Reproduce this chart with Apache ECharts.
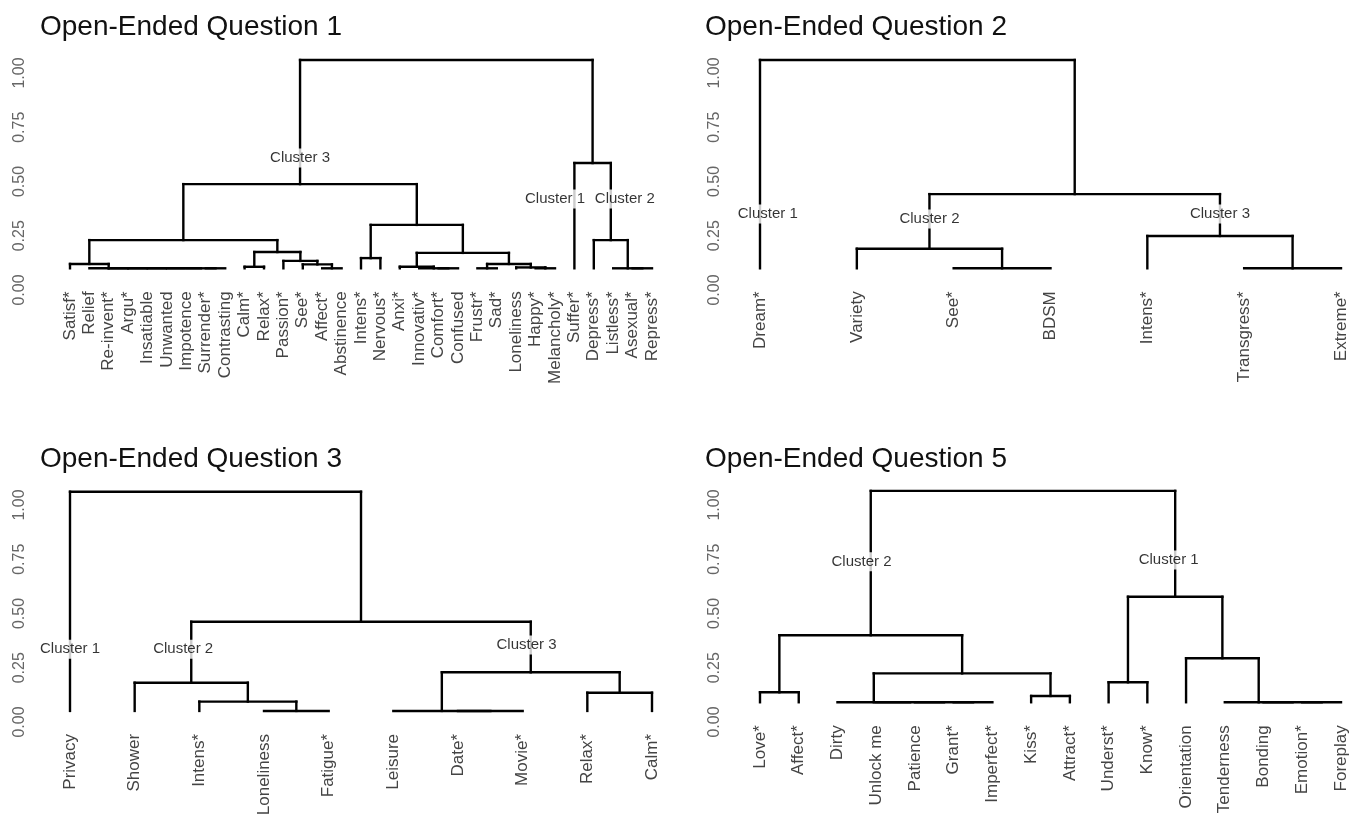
<!DOCTYPE html>
<html>
<head>
<meta charset="utf-8">
<script src="https://cdn.jsdelivr.net/npm/echarts@6/dist/echarts.min.js"></script>
<style>
html,body{margin:0;padding:0;background:#fff;}
#chart{width:1364px;height:822px;}
</style>
</head>
<body>
<div id="chart"></div>
<script>
// ---------- DATA ----------
const yTickValues = [0, 0.25, 0.5, 0.75, 1.0];

// Question 1
const q1Title = 'Open-Ended Question 1';
const q1Leaves = ['Satisf*','Relief','Re-invent*','Argu*','Insatiable','Unwanted','Impotence','Surrender*','Contrasting',
  'Calm*','Relax*','Passion*','See*','Affect*','Abstinence','Intens*','Nervous*','Anxi*','Innovativ*','Comfort*',
  'Confused','Frustr*','Sad*','Loneliness','Happy*','Melancholy*','Suffer*','Depress*','Listless*','Asexual*','Repress*'];
const q1LeafHeight = 0.10;
// [left, right, height]; strings are leaves, numbers refer to earlier merges
const q1Merges = [
  ['Surrender*','Contrasting',0.10],   //0
  ['Impotence',0,0.10],                //1
  ['Unwanted',1,0.10],                 //2
  ['Insatiable',2,0.10],               //3
  ['Argu*',3,0.10],                    //4
  ['Re-invent*',4,0.10],               //5
  ['Relief',5,0.10],                   //6
  ['Satisf*',6,0.120],                 //7
  ['Affect*','Abstinence',0.10],       //8
  ['See*',8,0.118],                    //9
  ['Passion*',9,0.134],                //10
  ['Calm*','Relax*',0.107],            //11
  [11,10,0.175],                       //12
  [7,12,0.230],                        //13
  ['Intens*','Nervous*',0.147],        //14
  ['Comfort*','Confused',0.10],        //15
  ['Innovativ*',15,0.10],              //16
  ['Anxi*',16,0.107],                  //17
  ['Frustr*','Sad*',0.10],             //18
  ['Happy*','Melancholy*',0.10],       //19
  ['Loneliness',19,0.104],             //20
  [18,20,0.120],                       //21
  [17,21,0.171],                       //22
  [14,22,0.300],                       //23
  [13,23,0.488],                       //24
  ['Asexual*','Repress*',0.10],        //25
  ['Listless*',25,0.10],               //26
  ['Depress*',26,0.230],               //27
  ['Suffer*',27,0.585],                //28
  [24,28,1.060]                        //29
];
const q1Clusters = [['Cluster 3',11.86,0.608],['Cluster 1',25.0,0.419],['Cluster 2',28.6,0.419]];

// Question 2
const q2Title = 'Open-Ended Question 2';
const q2Leaves = ['Dream*','Variety','See*','BDSM','Intens*','Transgress*','Extreme*'];
const q2LeafHeight = 0.10;
const q2Merges = [
  ['See*','BDSM',0.10],        //0
  ['Variety',0,0.190],         //1
  ['Transgress*','Extreme*',0.10], //2
  ['Intens*',2,0.249],         //3
  [1,3,0.442],                 //4
  ['Dream*',4,1.060]           //5
];
const q2Clusters = [['Cluster 1',0.08,0.350],['Cluster 2',1.75,0.327],['Cluster 3',4.75,0.350]];

// Question 3
const q3Title = 'Open-Ended Question 3';
const q3Leaves = ['Privacy','Shower','Intens*','Loneliness','Fatigue*','Leisure','Date*','Movie*','Relax*','Calm*'];
const q3LeafHeight = 0.051;
const q3Merges = [
  ['Loneliness','Fatigue*',0.051], //0
  ['Intens*',0,0.094],             //1
  ['Shower',1,0.181],              //2
  ['Date*','Movie*',0.051],        //3
  ['Leisure',3,0.051],             //4
  ['Relax*','Calm*',0.135],        //5
  [4,5,0.229],                     //6
  [2,6,0.462],                     //7
  ['Privacy',7,1.061]              //8
];
const q3Clusters = [['Cluster 1',0,0.335],['Cluster 2',1.75,0.335],['Cluster 3',7.06,0.355]];

// Question 5
const q5Title = 'Open-Ended Question 5';
const q5Leaves = ['Love*','Affect*','Dirty','Unlock me','Patience','Grant*','Imperfect*','Kiss*','Attract*',
  'Underst*','Know*','Orientation','Tenderness','Bonding','Emotion*','Foreplay'];
const q5LeafHeight = 0.091;
const q5Merges = [
  ['Love*','Affect*',0.137],       //0
  ['Grant*','Imperfect*',0.091],   //1
  ['Patience',1,0.091],            //2
  ['Unlock me',2,0.091],           //3
  ['Dirty',3,0.091],               //4
  ['Kiss*','Attract*',0.120],      //5
  [4,5,0.224],                     //6
  [0,6,0.400],                     //7
  ['Underst*','Know*',0.183],      //8
  ['Emotion*','Foreplay',0.091],   //9
  ['Bonding',9,0.091],             //10
  ['Tenderness',10,0.091],         //11
  ['Orientation',11,0.294],        //12
  [8,12,0.577],                    //13
  [7,13,1.065]                     //14
];
const q5Clusters = [['Cluster 2',2.62,0.739],['Cluster 1',10.55,0.747]];

// ---------- BUILD ----------
function buildSegments(leaves, merges, leafH) {
  const nodes = [];
  const segs = [];
  const get = r => typeof r === 'string' ? {x: leaves.indexOf(r), y: leafH} : nodes[r];
  merges.forEach(([a, b, h]) => {
    const A = get(a), B = get(b);
    segs.push([A.x, A.y, A.x, h]);
    segs.push([B.x, B.y, B.x, h]);
    segs.push([A.x, h, B.x, h]);
    nodes.push({x: (A.x + B.x) / 2, y: h});
  });
  return segs;
}

const FONT = 'Liberation Sans, Arial, sans-serif';
const PX_PER_UNIT = 217;
const panels = [
  {title: q1Title, leaves: q1Leaves, merges: q1Merges, leafH: q1LeafHeight, clusters: q1Clusters,
   left: 70, width: 582, zeroY: 290, titleLeft: 35, titleTop: 8},
  {title: q2Title, leaves: q2Leaves, merges: q2Merges, leafH: q2LeafHeight, clusters: q2Clusters,
   left: 760, width: 581, zeroY: 290, titleLeft: 700, titleTop: 8},
  {title: q3Title, leaves: q3Leaves, merges: q3Merges, leafH: q3LeafHeight, clusters: q3Clusters,
   left: 70, width: 582, zeroY: 722, titleLeft: 35, titleTop: 440},
  {title: q5Title, leaves: q5Leaves, merges: q5Merges, leafH: q5LeafHeight, clusters: q5Clusters,
   left: 760, width: 581, zeroY: 722, titleLeft: 700, titleTop: 440}
];

const yMax = 1.25;
const option = {
  animation: false,
  backgroundColor: '#fff',
  title: [], grid: [], xAxis: [], yAxis: [], series: []
};

panels.forEach((p, i) => {
  const h = yMax * PX_PER_UNIT;
  option.title.push({
    text: p.title, left: p.titleLeft, top: p.titleTop,
    textStyle: {fontFamily: FONT, fontSize: 28, fontWeight: 'normal', color: '#111'}
  });
  option.grid.push({left: p.left, top: p.zeroY - h, width: p.width, height: h, containLabel: false});
  // category axis for leaf labels
  option.xAxis.push({
    type: 'category', gridIndex: i, data: p.leaves, boundaryGap: false,
    axisLine: {show: false}, axisTick: {show: false}, splitLine: {show: false},
    axisLabel: {interval: 0, rotate: 90, fontFamily: FONT, fontSize: 17, color: '#444',
      margin: Math.max(0, 23 - p.leafH * PX_PER_UNIT)}
  });
  // value axis for tree geometry
  option.xAxis.push({
    type: 'value', gridIndex: i, min: 0, max: p.leaves.length - 1, show: false
  });
  option.yAxis.push({
    type: 'value', gridIndex: i, min: 0, max: yMax, interval: 0.25,
    axisLine: {show: false}, axisTick: {show: false}, splitLine: {show: false},
    axisLabel: {rotate: 90, margin: i % 2 === 0 ? 42 : 37, fontFamily: FONT, fontSize: 16, color: '#666',
      formatter: v => (yTickValues.some(t => Math.abs(t - v) < 1e-6) ? v.toFixed(2) : '')}
  });
  const segs = buildSegments(p.leaves, p.merges, p.leafH);
  option.series.push({
    type: 'custom', xAxisIndex: i * 2 + 1, yAxisIndex: i, z: 2,
    encode: {x: [0, 2], y: [1, 3]},
    data: segs,
    renderItem: (params, api) => {
      const a = api.coord([api.value(0), api.value(1)]);
      const b = api.coord([api.value(2), api.value(3)]);
      return {type: 'line', shape: {x1: a[0], y1: a[1], x2: b[0], y2: b[1]},
        style: {stroke: '#000', lineWidth: 2.4, lineCap: 'square'}};
    }
  });
  option.series.push({
    type: 'scatter', xAxisIndex: i * 2 + 1, yAxisIndex: i, z: 5,
    symbolSize: 0, silent: true,
    data: p.clusters.map(c => ({name: c[0], value: [c[1], c[2]]})),
    label: {show: true, position: 'inside', formatter: '{b}', fontFamily: FONT, fontSize: 15, color: '#000',
      backgroundColor: '#fff', padding: [2, 1]}
  });
});

const chart = echarts.init(document.getElementById('chart'), null, {renderer: 'canvas'});
chart.setOption(option);
</script>
</body>
</html>
